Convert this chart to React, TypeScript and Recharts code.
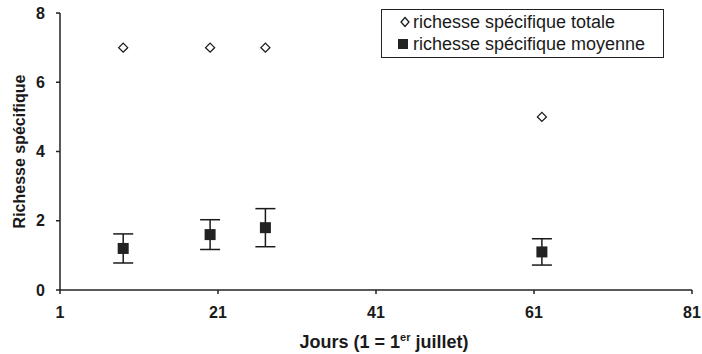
import { ScatterChart, Scatter, XAxis, YAxis, ErrorBar, Legend } from 'recharts'

// jours (1 = 1er juillet)
const days = [9, 20, 27, 62]
const totalRichness = [7, 7, 7, 5]
const meanRichness = [1.2, 1.6, 1.8, 1.1]
const meanError = [0.42, 0.43, 0.55, 0.38]

const xTicks = [1, 21, 41, 61, 81]
const yTicks = [0, 2, 4, 6, 8]

const totalData = days.map((d, i) => ({ x: d, y: totalRichness[i] }))
const meanData = days.map((d, i) => ({ x: d, y: meanRichness[i], err: meanError[i] }))

const FONT = '"Liberation Sans", Arial, sans-serif'
const INK = '#1a1a1a'

const Diamond = (props: any) => {
  const { cx, cy } = props
  const r = 4.5
  return (
    <path
      d={`M${cx},${cy - r}L${cx + r},${cy}L${cx},${cy + r}L${cx - r},${cy}Z`}
      fill='#fff'
      stroke={INK}
      strokeWidth={1.3}
    />
  )
}

const Square = (props: any) => {
  const { cx, cy } = props
  const s = 11
  return <rect x={cx - s / 2} y={cy - s / 2} width={s} height={s} fill='#222' />
}

const XTitle = (props: any) => {
  const { viewBox } = props
  const x = viewBox.x + viewBox.width / 2 + 8
  return (
    <text x={x} y={348} textAnchor='middle' fontFamily={FONT} fontWeight='bold' fontSize={18} fill={INK}>
      Jours (1 = 1
      <tspan fontSize={11} dy={-7}>er</tspan>
      <tspan dy={7}> juillet)</tspan>
    </text>
  )
}

const YTitle = (props: any) => {
  const { viewBox } = props
  const y = viewBox.y + viewBox.height / 2
  return (
    <text
      x={19}
      y={y}
      transform={`rotate(-90, 19, ${y})`}
      textAnchor='middle'
      dominantBaseline='central'
      fontFamily={FONT}
      fontWeight='bold'
      fontSize={16}
      fill={INK}
    >
      Richesse spécifique
    </text>
  )
}

const LegendBox = () => (
  <div
    style={{
      border: '1.5px solid #222',
      width: 283,
      height: 49,
      boxSizing: 'border-box',
      fontFamily: FONT,
      fontSize: 18,
      color: INK,
      padding: '1px 0 0 18px',
      lineHeight: '22px',
      background: '#fff',
    }}
  >
    <div style={{ display: 'flex', alignItems: 'center' }}>
      <svg width={13} height={12}>
        <path d='M5,1.5L9,6L5,10.5L1,6Z' fill='#fff' stroke={INK} strokeWidth={1.3} />
      </svg>
      <span>richesse spécifique totale</span>
    </div>
    <div style={{ display: 'flex', alignItems: 'center', marginLeft: -3 }}>
      <svg width={16} height={12}>
        <rect x={1} y={1} width={10} height={10} fill='#222' />
      </svg>
      <span>richesse spécifique moyenne</span>
    </div>
  </div>
)

export default function App() {
  return (
    <div style={{ position: 'absolute', left: 0, top: 0, background: '#fff' }}>
      <ScatterChart width={702} height={354} margin={{ top: 13, right: 10, left: 0, bottom: 0 }}>
        <XAxis
          type='number'
          dataKey='x'
          domain={[1, 81]}
          ticks={xTicks}
          height={64}
          tickSize={4}
          tickMargin={13}
          stroke='#222'
          strokeWidth={1.5}
          tick={{ fontFamily: FONT, fontWeight: 'bold', fontSize: 16, fill: INK }}
          label={<XTitle />}
        />
        <YAxis
          type='number'
          dataKey='y'
          domain={[0, 8]}
          ticks={yTicks}
          width={60}
          tickSize={4}
          tickMargin={11}
          stroke='#222'
          strokeWidth={1.5}
          tick={{ fontFamily: FONT, fontWeight: 'bold', fontSize: 16, fill: INK }}
          label={<YTitle />}
        />
        <Legend
          layout='vertical'
          verticalAlign='middle'
          align='center'
          content={<LegendBox />}
          wrapperStyle={{ left: 381, top: 9, width: 283, height: 49 }}
        />
        <Scatter
          name='richesse spécifique totale'
          data={totalData}
          shape={<Diamond />}
          isAnimationActive={false}
        />
        <Scatter
          name='richesse spécifique moyenne'
          data={meanData}
          shape={<Square />}
          isAnimationActive={false}
        >
          <ErrorBar dataKey='err' direction='y' width={10} stroke={INK} strokeWidth={1.5} />
        </Scatter>
      </ScatterChart>
    </div>
  )
}
